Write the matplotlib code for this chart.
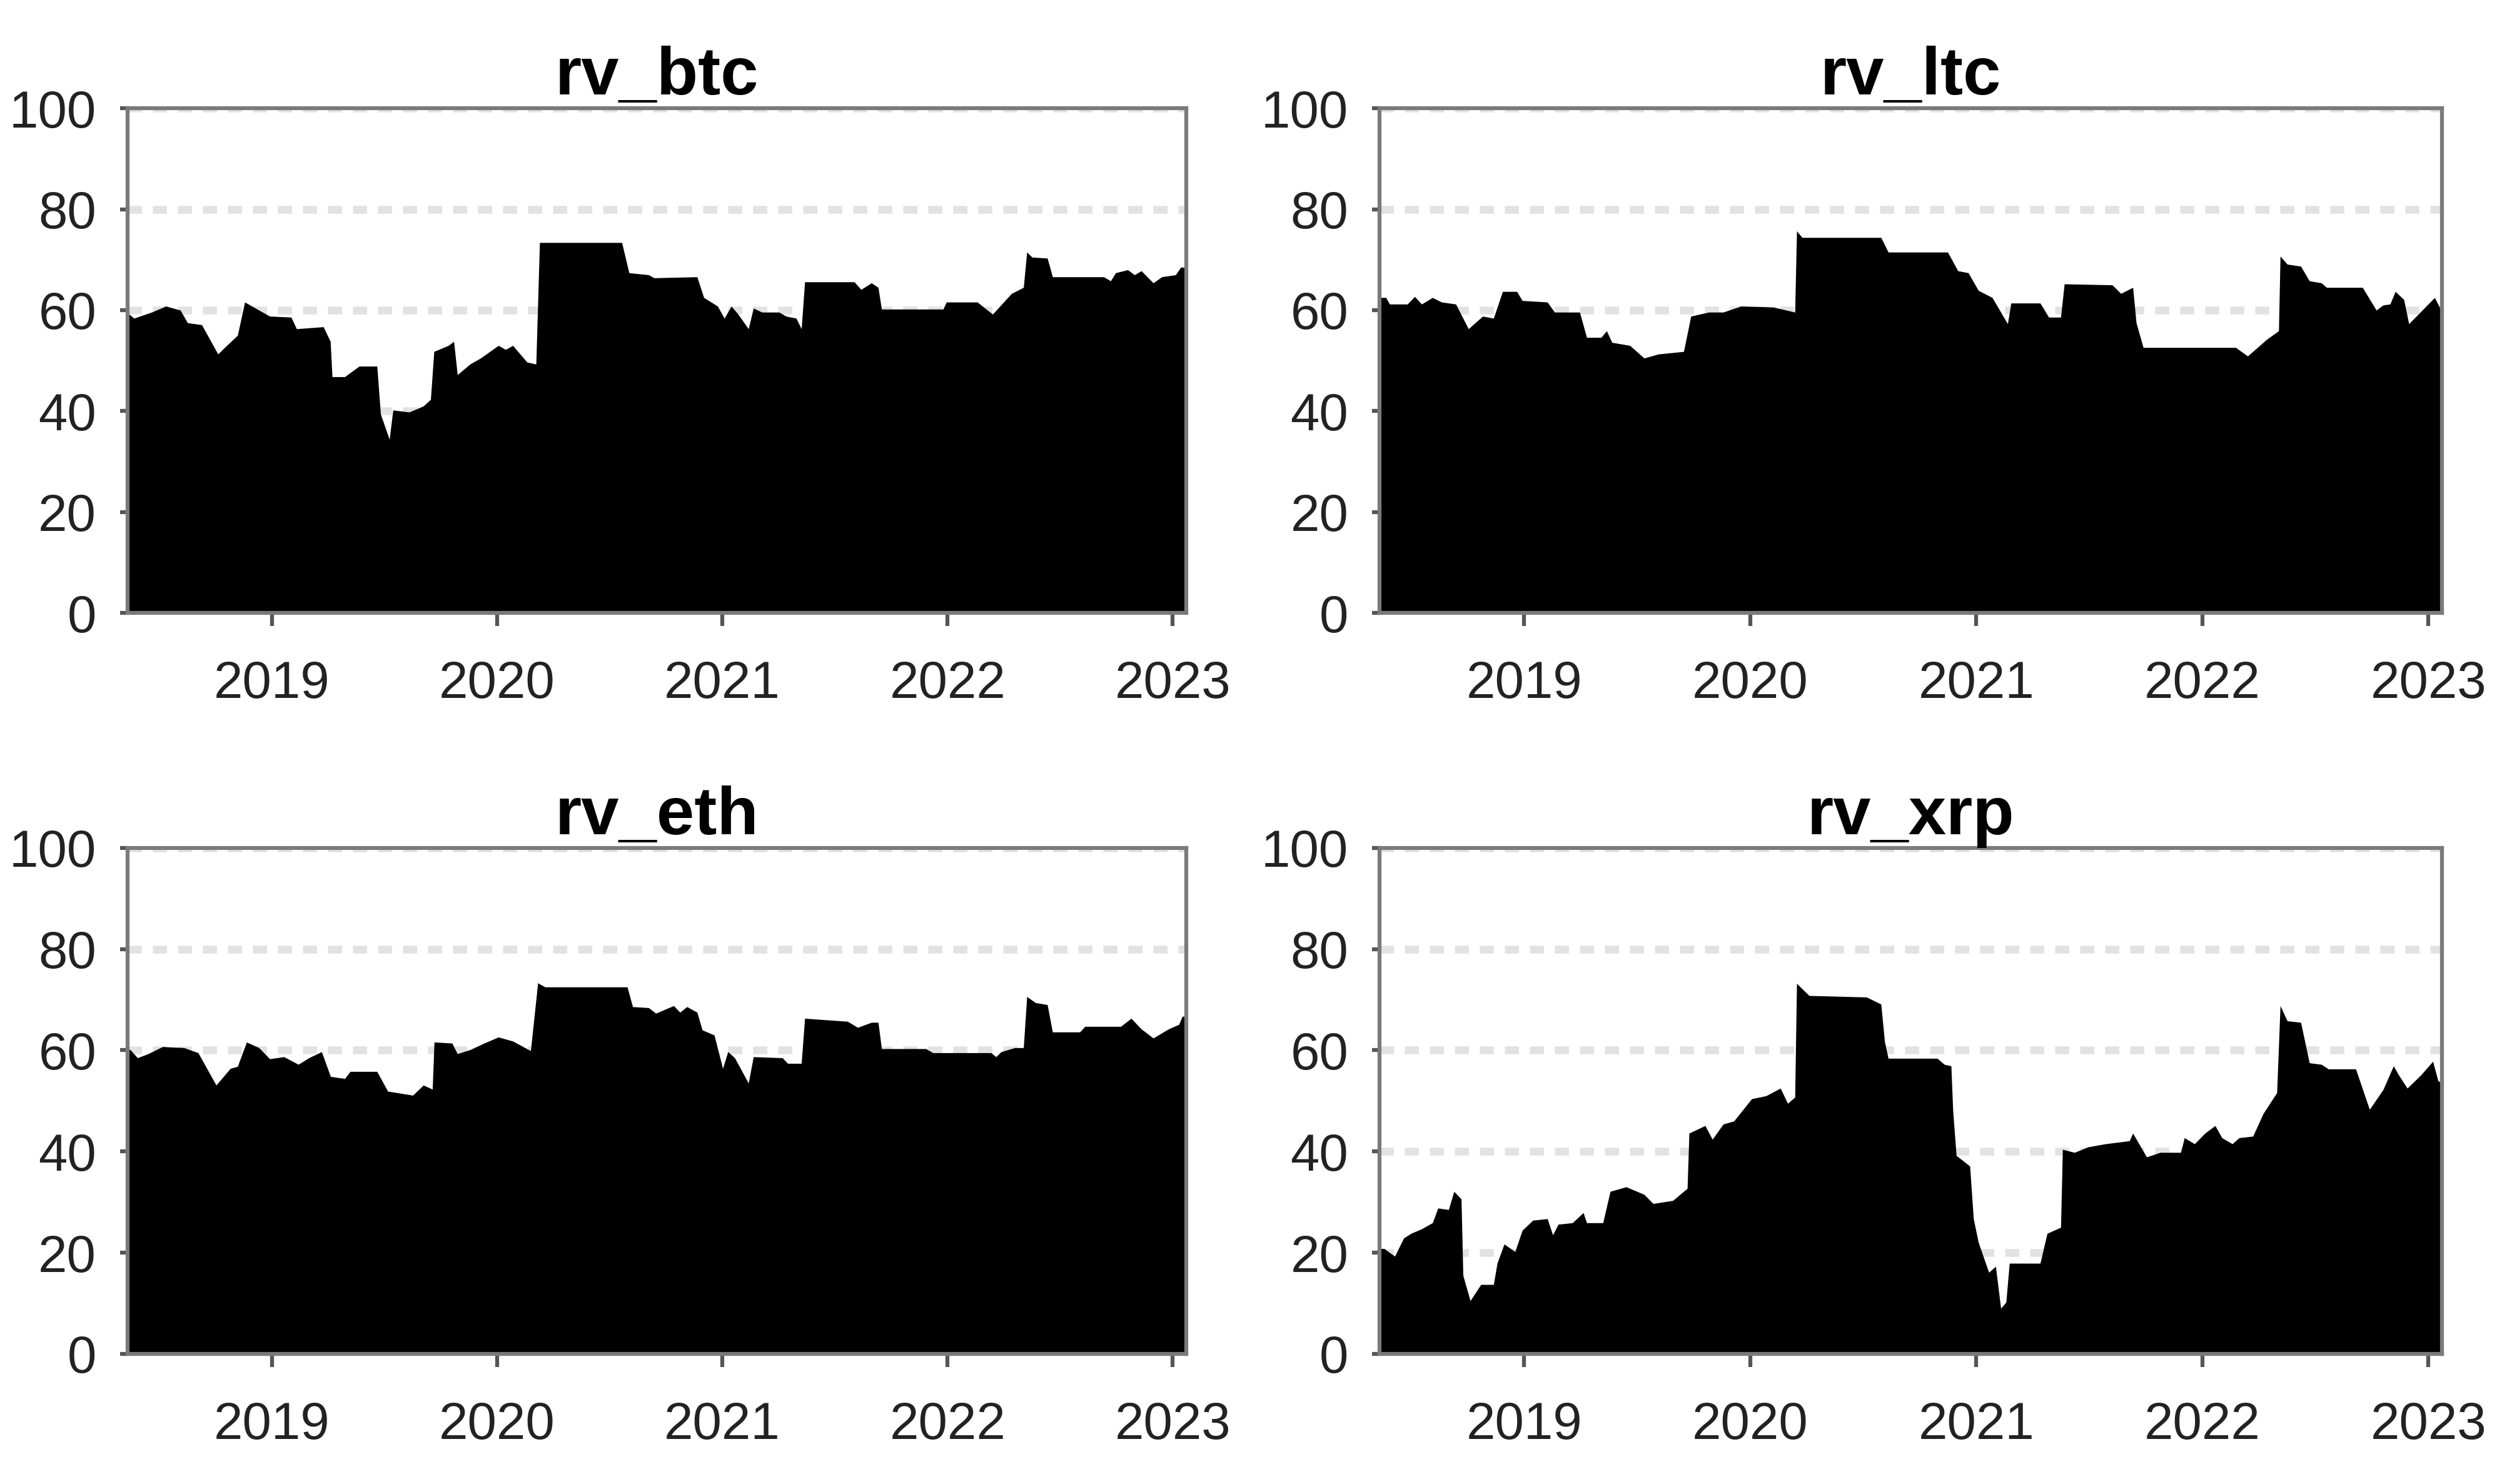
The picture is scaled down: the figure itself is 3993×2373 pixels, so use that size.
import matplotlib
matplotlib.use("Agg")
import matplotlib.pyplot as plt

plt.rcParams["font.family"] = ["Liberation Sans", "DejaVu Sans"]

# time axis in decimal years
btc_t = [2018.356, 2018.388, 2018.467, 2018.53, 2018.594, 2018.626, 2018.689, 2018.761, 2018.80, 2018.848,
         2018.88, 2018.943, 2018.991, 2019.086, 2019.11, 2019.229, 2019.26, 2019.268, 2019.324, 2019.388,
         2019.467, 2019.483, 2019.522, 2019.538, 2019.61, 2019.673, 2019.705, 2019.72, 2019.784, 2019.808,
         2019.824, 2019.88, 2019.927, 2020.006, 2020.038, 2020.07, 2020.133, 2020.173, 2020.189, 2020.554,
         2020.586, 2020.673, 2020.697, 2020.888, 2020.918, 2020.979, 2021.009, 2021.04, 2021.07, 2021.116,
         2021.138, 2021.176, 2021.252, 2021.283, 2021.328, 2021.351, 2021.366, 2021.586, 2021.616, 2021.662,
         2021.692, 2021.707, 2021.98, 2021.995, 2022.132, 2022.2, 2022.284, 2022.337, 2022.352, 2022.375,
         2022.443, 2022.466, 2022.693, 2022.724, 2022.746, 2022.8, 2022.83, 2022.86, 2022.913, 2022.951,
         2023.012, 2023.035, 2023.06]
btc_v = [59.6, 58.4, 59.6, 60.8, 60.0, 57.5, 57.1, 51.3, 53.0, 55.0,
         61.6, 60.0, 58.8, 58.6, 56.3, 56.7, 53.8, 46.8, 46.8, 48.9,
         48.9, 39.4, 34.4, 40.2, 39.8, 41.0, 42.3, 51.8, 53.0, 53.8,
         47.2, 49.3, 50.5, 53.0, 52.2, 53.0, 49.7, 49.3, 73.4, 73.4,
         67.4, 67.0, 66.4, 66.6, 62.5, 60.8, 58.4, 60.8, 59.2, 56.3,
         60.4, 59.6, 59.6, 58.8, 58.4, 56.3, 65.6, 65.6, 64.1, 65.4,
         64.5, 60.2, 60.2, 61.6, 61.6, 59.2, 63.3, 64.5, 71.5, 70.5,
         70.3, 66.6, 66.6, 65.8, 67.4, 68.0, 67.0, 67.8, 65.4, 66.6,
         67.0, 68.5, 68.5]

ltc_t = [2018.356, 2018.388, 2018.404, 2018.483, 2018.515, 2018.546, 2018.594, 2018.634, 2018.697, 2018.753,
         2018.816, 2018.864, 2018.904, 2018.967, 2018.991, 2019.102, 2019.134, 2019.245, 2019.276, 2019.34,
         2019.364, 2019.388, 2019.467, 2019.53, 2019.594, 2019.705, 2019.737, 2019.816, 2019.88, 2019.959,
         2020.102, 2020.197, 2020.205, 2020.229, 2020.578, 2020.61, 2020.873, 2020.918, 2020.964, 2021.009,
         2021.07, 2021.138, 2021.153, 2021.282, 2021.32, 2021.373, 2021.389, 2021.601, 2021.639, 2021.692,
         2021.707, 2021.738, 2022.147, 2022.2, 2022.284, 2022.337, 2022.344, 2022.375, 2022.435, 2022.473,
         2022.526, 2022.549, 2022.708, 2022.769, 2022.799, 2022.83, 2022.853, 2022.891, 2022.913, 2023.027,
         2023.06]
ltc_v = [62.5, 62.5, 61.2, 61.2, 62.7, 61.2, 62.5, 61.6, 61.2, 56.3,
         58.8, 58.4, 63.7, 63.7, 61.9, 61.6, 59.6, 59.6, 54.6, 54.6,
         55.9, 53.6, 53.0, 50.5, 51.3, 51.8, 58.8, 59.6, 59.6, 60.8,
         60.6, 59.6, 75.7, 74.4, 74.4, 71.5, 71.5, 67.8, 67.4, 63.9,
         62.5, 57.3, 61.4, 61.4, 58.6, 58.6, 65.2, 65.0, 63.3, 64.5,
         57.5, 52.6, 52.6, 50.9, 54.2, 55.9, 70.7, 69.1, 68.7, 65.8,
         65.4, 64.5, 64.5, 60.0, 61.0, 61.2, 63.7, 62.1, 57.3, 62.5,
         59.6]

eth_t = [2018.356, 2018.372, 2018.404, 2018.451, 2018.515, 2018.61, 2018.673, 2018.753, 2018.816, 2018.848,
         2018.888, 2018.943, 2018.991, 2019.054, 2019.118, 2019.165, 2019.221, 2019.261, 2019.324, 2019.348,
         2019.467, 2019.515, 2019.626, 2019.673, 2019.713, 2019.721, 2019.80, 2019.824, 2019.88, 2019.943,
         2020.006, 2020.07, 2020.149, 2020.181, 2020.213, 2020.578, 2020.602, 2020.673, 2020.705, 2020.784,
         2020.812, 2020.843, 2020.888, 2020.911, 2020.964, 2021.002, 2021.025, 2021.055, 2021.116, 2021.138,
         2021.267, 2021.29, 2021.351, 2021.366, 2021.556, 2021.601, 2021.662, 2021.692, 2021.707, 2021.904,
         2021.935, 2022.193, 2022.215, 2022.238, 2022.299, 2022.337, 2022.352, 2022.39, 2022.443, 2022.466,
         2022.587, 2022.61, 2022.769, 2022.815, 2022.86, 2022.913, 2022.981, 2023.027, 2023.042, 2023.06]
eth_v = [60.1, 60.1, 58.5, 59.3, 60.7, 60.5, 59.5, 53.1, 56.4, 56.8,
         61.6, 60.5, 58.3, 58.7, 57.2, 58.5, 59.7, 54.8, 54.4, 55.8,
         55.8, 51.9, 51.1, 53.1, 52.3, 61.6, 61.4, 59.3, 60.1, 61.4,
         62.6, 61.8, 59.9, 73.3, 72.5, 72.5, 68.6, 68.4, 67.3, 68.8,
         67.5, 68.6, 67.5, 64.0, 63.0, 56.4, 59.7, 58.5, 53.5, 58.7,
         58.5, 57.4, 57.4, 66.3, 65.7, 64.5, 65.5, 65.5, 60.3, 60.3,
         59.5, 59.5, 58.7, 59.7, 60.5, 60.5, 70.6, 69.4, 69.0, 63.6,
         63.6, 64.7, 64.7, 66.3, 64.2, 62.4, 64.2, 65.1, 66.7, 66.7]

xrp_t = [2018.356, 2018.38, 2018.427, 2018.467, 2018.499, 2018.546, 2018.594, 2018.618, 2018.665, 2018.689,
         2018.721, 2018.729, 2018.761, 2018.808, 2018.864, 2018.88, 2018.911, 2018.959, 2018.991, 2019.038,
         2019.102, 2019.126, 2019.15, 2019.213, 2019.261, 2019.276, 2019.348, 2019.38, 2019.451, 2019.53,
         2019.57, 2019.657, 2019.721, 2019.729, 2019.8, 2019.832, 2019.88, 2019.927, 2020.006, 2020.07,
         2020.133, 2020.165, 2020.197, 2020.205, 2020.26, 2020.514, 2020.578, 2020.594, 2020.61, 2020.827,
         2020.858, 2020.888, 2020.896, 2020.911, 2020.971, 2020.987, 2021.009, 2021.055, 2021.085, 2021.108,
         2021.131, 2021.146, 2021.282, 2021.313, 2021.373, 2021.381, 2021.434, 2021.495, 2021.571, 2021.677,
         2021.692, 2021.753, 2021.813, 2021.904, 2021.92, 2021.965, 2022.011, 2022.056, 2022.086, 2022.132,
         2022.162, 2022.223, 2022.269, 2022.329, 2022.344, 2022.375, 2022.435, 2022.473, 2022.526, 2022.557,
         2022.678, 2022.739, 2022.799, 2022.845, 2022.868, 2022.906, 2022.966, 2023.019, 2023.042, 2023.06]
xrp_v = [20.8, 20.8, 19.3, 22.9, 23.8, 24.7, 25.9, 28.8, 28.5, 32.1,
         30.6, 15.5, 10.5, 13.7, 13.7, 17.9, 21.7, 20.2, 24.4, 26.4,
         26.7, 23.5, 25.6, 25.9, 27.9, 25.9, 25.9, 32.1, 33.0, 31.5,
         29.7, 30.3, 32.7, 43.6, 45.1, 42.4, 45.4, 46.0, 50.4, 51.0,
         52.5, 49.5, 50.7, 73.2, 70.8, 70.5, 69.1, 61.7, 58.4, 58.4,
         57.2, 56.9, 48.0, 39.2, 37.1, 26.7, 22.0, 16.1, 17.3, 9.0,
         10.2, 17.9, 17.9, 23.8, 25.0, 40.4, 39.8, 40.9, 41.5, 42.1,
         43.6, 38.9, 39.8, 39.8, 42.7, 41.5, 43.6, 45.1, 42.7, 41.5,
         42.7, 43.0, 47.5, 51.6, 68.8, 65.8, 65.5, 57.5, 57.2, 56.3,
         56.3, 48.3, 52.2, 56.9, 55.1, 52.5, 55.1, 57.8, 54.0, 53.4]

titles = ["rv_btc", "rv_ltc", "rv_eth", "rv_xrp"]
series = [(btc_t, btc_v), (ltc_t, ltc_v), (eth_t, eth_v), (xrp_t, xrp_v)]
years = [2019, 2020, 2021, 2022, 2023]
yticks = [0, 20, 40, 60, 80, 100]

# axes boxes [left, bottom, width, height] in figure fractions
boxes = [
    [0.0511, 0.587, 0.424, 0.340],
    [0.5525, 0.587, 0.4255, 0.340],
    [0.0511, 0.0877, 0.424, 0.341],
    [0.5525, 0.0877, 0.4255, 0.341],
]

fig = plt.figure(figsize=(13.31, 7.91), dpi=300)

for box, title, (t, v) in zip(boxes, titles, series):
    ax = fig.add_axes(box)
    ax.fill_between(t, v, 0, color="black", lw=0, zorder=2)
    ax.set_xlim(2018.36, 2023.06)
    ax.set_ylim(0, 100)
    ax.set_yticks(yticks)
    ax.set_xticks(years)
    ax.set_xticklabels([str(y) for y in years])
    ax.set_axisbelow(True)
    ax.grid(axis="y", color="#e2e2e2", lw=3, linestyle=(0, (1.8, 1.4)))
    for sp in ax.spines.values():
        sp.set_color("#7a7a7a")
        sp.set_linewidth(1.5)
        sp.set_zorder(3)
    ax.tick_params(axis="y", labelsize=20, length=3, width=1.5, pad=9,
                   color="#555555", labelcolor="#222222")
    ax.tick_params(axis="x", labelsize=20, length=5, width=1.5, pad=13,
                   color="#555555", labelcolor="#222222")
    ax.set_title(title, fontsize=26, fontweight="bold", pad=2)

fig.savefig("out.png", dpi=300)
